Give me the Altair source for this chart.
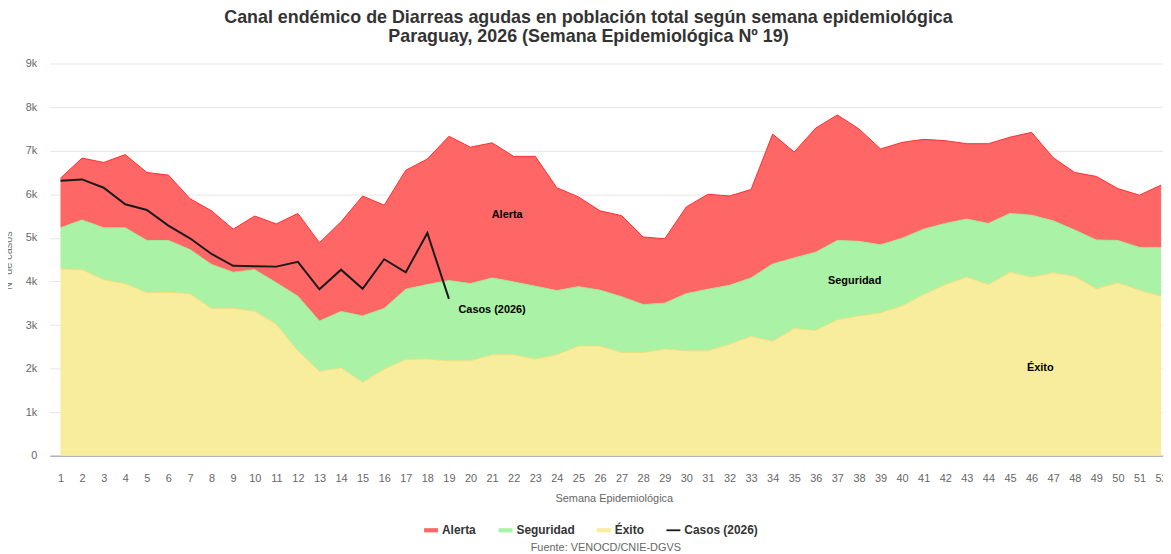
import altair as alt
import pandas as pd

# ---------------- data ----------------
semanas = list(range(1, 53))

exito = [4290, 4270, 4040, 3950, 3740, 3750, 3720, 3380, 3380, 3320,
         3020, 2410, 1940, 2020, 1690, 1990, 2210, 2220, 2180, 2180,
         2320, 2320, 2220, 2320, 2520, 2520, 2370, 2370, 2450, 2410,
         2410, 2560, 2740, 2630, 2920, 2880, 3120, 3210, 3280, 3440,
         3700, 3930, 4100, 3930, 4210, 4100, 4200, 4120, 3830, 3970,
         3800, 3660]

seguridad = [5230, 5410, 5230, 5230, 4940, 4940, 4730, 4390, 4210, 4270,
             3970, 3660, 3090, 3310, 3210, 3380, 3820, 3930, 4020, 3950,
             4080, 3990, 3890, 3790, 3880, 3800, 3650, 3470, 3500, 3720,
             3820, 3910, 4080, 4400, 4540, 4670, 4940, 4920, 4840, 4990,
             5200, 5330, 5430, 5330, 5560, 5520, 5390, 5180, 4950, 4940,
             4780, 4780]

alerta = [6370, 6830, 6730, 6910, 6500, 6440, 5900, 5620, 5200, 5500,
          5320, 5560, 4890, 5370, 5960, 5750, 6550, 6810, 7330, 7080,
          7180, 6870, 6870, 6150, 5940, 5620, 5510, 5020, 4980, 5710,
          6000, 5960, 6110, 7380, 6970, 7520, 7820, 7500, 7040, 7190,
          7260, 7230, 7160, 7160, 7310, 7420, 6840, 6500, 6410, 6130,
          5980, 6210]

casos_2026 = [6310, 6340, 6150, 5770, 5640, 5280, 4990, 4630, 4360, 4350,
              4340, 4450, 3820, 4270, 3830, 4510, 4210, 5110, 3600]

series = ["Alerta", "Seguridad", "Éxito", "Casos (2026)"]
colores = ["#ff6666", "#a9f2a6", "#f8ec9d", "#1a1a1a"]
lineas_borde = ["#ff2e2e", "#9fe99b", "#efdf7c"]

etiquetas = ["Alerta", "Casos (2026)", "Seguridad", "Éxito"]
etiqueta_semana = [21.7, 21.0, 37.8, 46.4]
etiqueta_valor = [5520, 3350, 4020, 2020]

titulo = ["Canal endémico de Diarreas agudas en población total según semana epidemiológica",
          "Paraguay, 2026 (Semana Epidemiológica Nº 19)"]
fuente = "Fuente: VENOCD/CNIE-DGVS"

# ---------------- tables ----------------
bandas = pd.concat([
    pd.DataFrame({"semana": semanas, "serie": "Éxito", "bajo": 0, "alto": exito}),
    pd.DataFrame({"semana": semanas, "serie": "Seguridad", "bajo": exito, "alto": seguridad}),
    pd.DataFrame({"semana": semanas, "serie": "Alerta", "bajo": seguridad, "alto": alerta}),
], ignore_index=True)

casos_df = pd.DataFrame({"semana": semanas[:len(casos_2026)], "valor": casos_2026,
                         "serie": "Casos (2026)"})
etiquetas_df = pd.DataFrame({"texto": etiquetas, "semana": etiqueta_semana, "valor": etiqueta_valor})
leyenda_df = pd.DataFrame({"serie": series})

# ---------------- scales / axes ----------------
x_scale = alt.Scale(domain=[0.5, 52.09], nice=False, zero=False)
y_scale = alt.Scale(domain=[0, 9000], nice=False)
color_scale = alt.Scale(domain=series, range=colores)

x_axis = alt.Axis(values=semanas, format="d", ticks=False, labelPadding=17,
                  labelFontSize=11, labelColor="#666666", labelOverlap=False,
                  labelFlush=False, grid=False, domainColor="#b5b5b5", domainWidth=1.5,
                  title="Semana Epidemiológica", titleColor="#666666", titleFontSize=11,
                  titleFontWeight="normal", titleX=568, titleY=43, titleAlign="center",
                  titleBaseline="middle")
y_axis = alt.Axis(values=list(range(0, 9001, 1000)),
                  labelExpr="datum.value == 0 ? '0' : (datum.value / 1000) + 'k'",
                  domain=False, ticks=False, labelPadding=13, labelFontSize=11,
                  labelColor="#666666", gridColor="#e6e6e6",
                  title="N° de casos", titleColor="#777777", titleFontSize=11,
                  titleFontWeight="normal", titleX=-36, titleY=198,
                  titleAlign="center", titleBaseline="bottom", titleAngle=-90)

rect_sym = "M-1,-0.3H1V0.3H-1Z"
line_sym = "M-1,-0.13H1V0.13H-1Z"
leyenda_cfg = alt.Legend(orient="none", direction="horizontal", legendX=377, legendY=463,
                         title=None, labelFontSize=12, labelFontWeight="bold",
                         labelColor="#333333", symbolSize=196, symbolStrokeWidth=0,
                         symbolOpacity=1, labelOffset=4, columnPadding=22)

X = alt.X("semana:Q", scale=x_scale, axis=x_axis)
COLOR = alt.Color("serie:N", scale=color_scale, legend=leyenda_cfg)

areas = alt.Chart(bandas).mark_area(opacity=1).encode(
    x=X,
    y=alt.Y("alto:Q", scale=y_scale, axis=y_axis),
    y2="bajo:Q",
    color=COLOR,
)

bordes = alt.Chart(bandas).mark_line(strokeWidth=1).encode(
    x=X,
    y=alt.Y("alto:Q", scale=y_scale, axis=y_axis),
    stroke=alt.Stroke("serie:N", scale=alt.Scale(domain=series[:3], range=lineas_borde),
                      legend=None),
)

linea = alt.Chart(casos_df).mark_line(strokeWidth=2).encode(
    x=X,
    y=alt.Y("valor:Q", scale=y_scale, axis=y_axis),
    color=COLOR,
)

leyenda = alt.Chart(leyenda_df).transform_filter("false").mark_point(
    filled=True, opacity=1).encode(
    color=COLOR,
    shape=alt.Shape("serie:N", scale=alt.Scale(domain=series,
                    range=[rect_sym, rect_sym, rect_sym, line_sym]), legend=leyenda_cfg),
)

textos = alt.Chart(etiquetas_df).mark_text(fontSize=11, fontWeight="bold", color="#000000").encode(
    x=alt.X("semana:Q", scale=x_scale, axis=x_axis),
    y=alt.Y("valor:Q", scale=y_scale, axis=y_axis),
    text="texto:N",
)

nota = alt.Chart(pd.DataFrame({"t": [fuente]})).mark_text(
    fontSize=11, color="#666666", align="center", baseline="middle").encode(
    x=alt.value(560), y=alt.value(488), text="t:N")

menu = alt.Chart(pd.DataFrame({"t": ["≡"]})).mark_text(
    fontSize=20, color="#666666", align="left", baseline="middle", font="DejaVu Sans").encode(
    x=alt.value(1121), y=alt.value(-42), text="t:N")

chart = alt.layer(areas, bordes, linea, textos, leyenda, nota, menu).properties(
    width=1121, height=395,
    padding={"left": 42, "top": 54, "right": 0, "bottom": 97},
    autosize=alt.AutoSizeParams(type="none"),
    title=alt.TitleParams(text=titulo, fontSize=18, fontWeight="bold", color="#333333",
                          anchor="middle", frame="group", dx=-18, offset=-34, lineHeight=19),
).configure(font="Liberation Sans").configure_view(stroke=None)

chart.save("out.html", embed_options={"renderer": "svg", "actions": False})
